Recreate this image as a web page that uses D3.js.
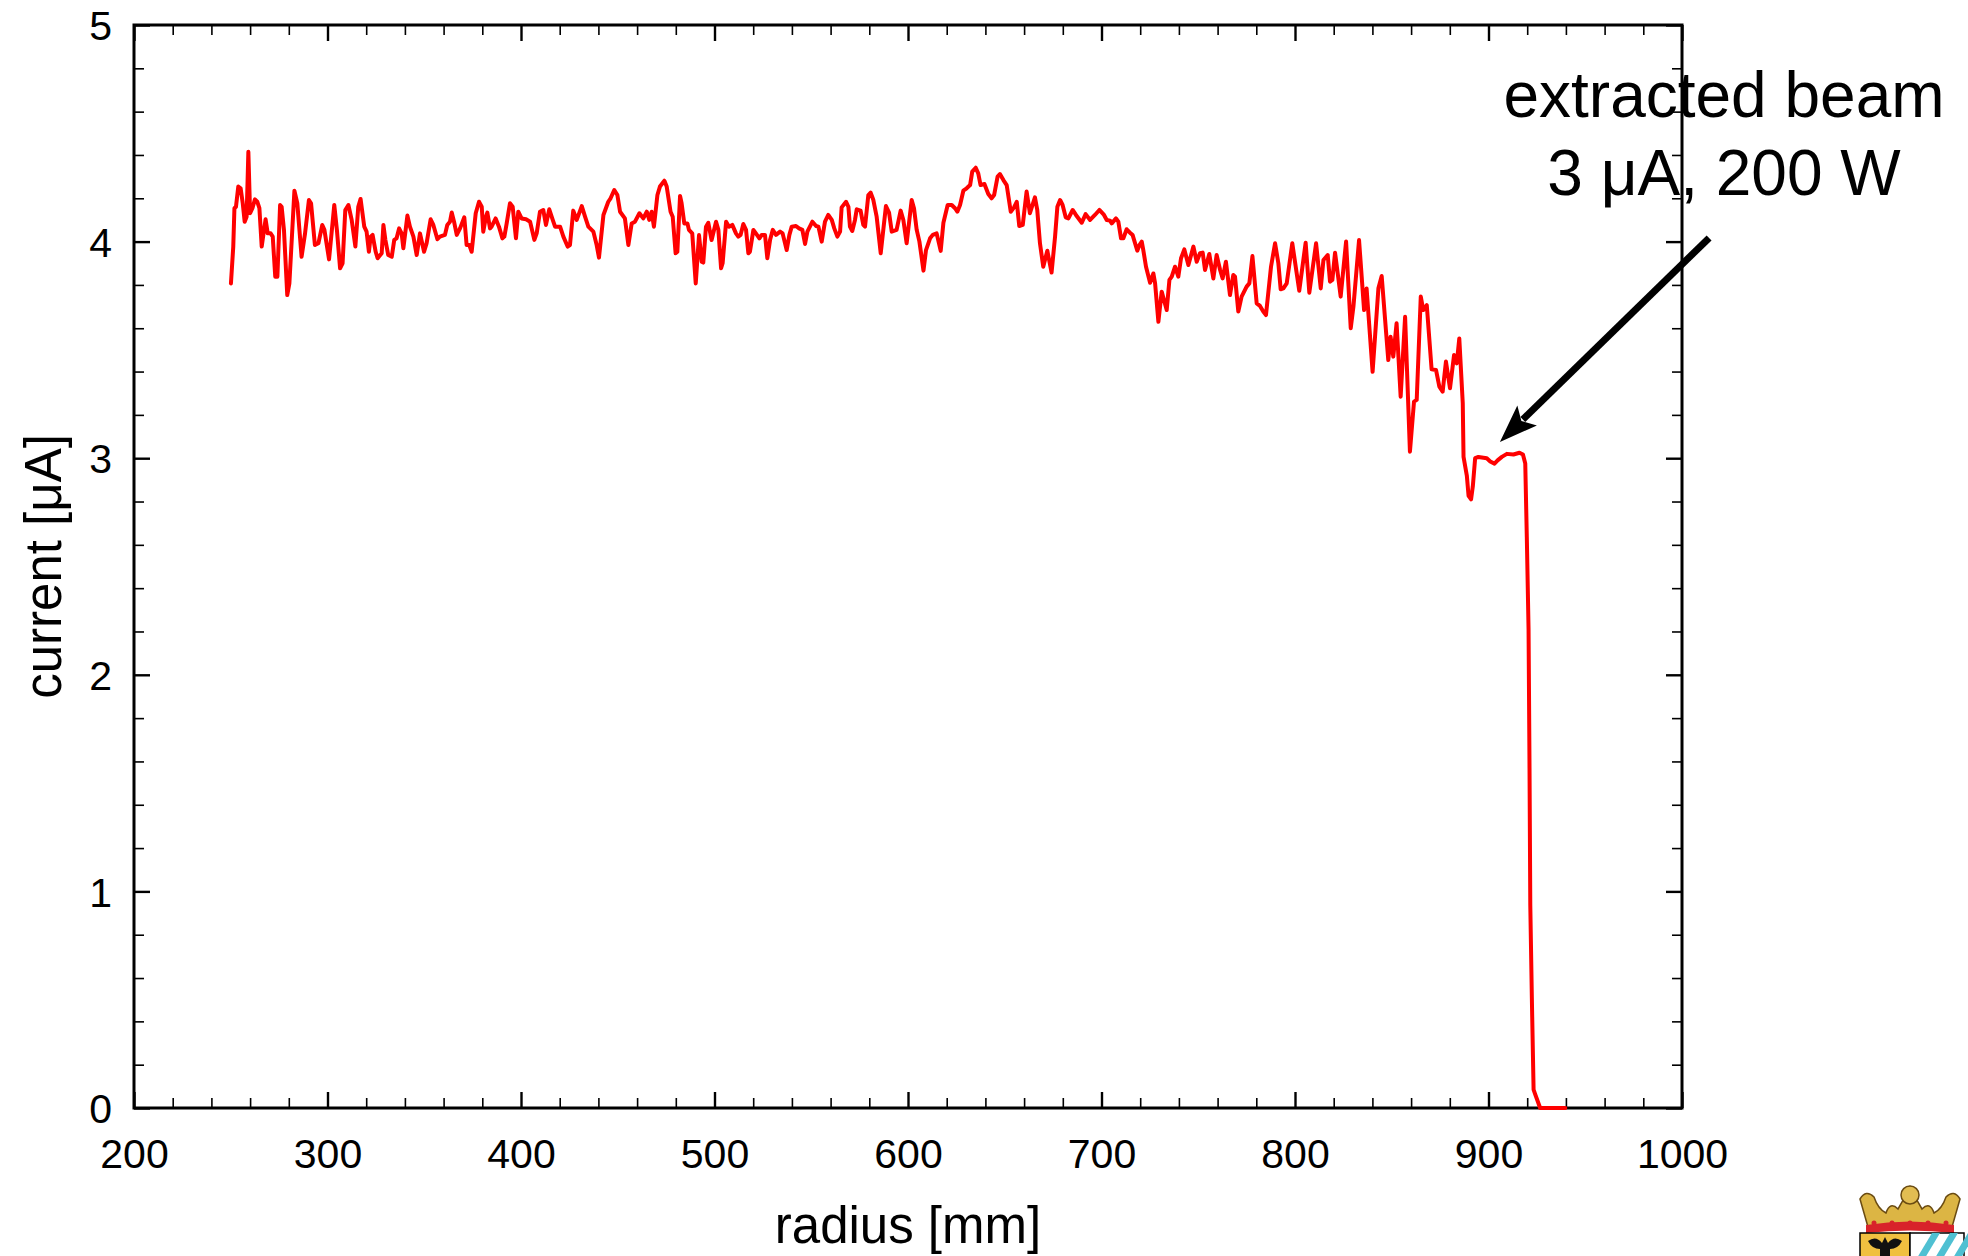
<!DOCTYPE html>
<html>
<head>
<meta charset="utf-8">
<script src="https://cdn.jsdelivr.net/npm/d3@7"></script>
<style>
  html, body { margin: 0; padding: 0; background: #fff; }
  svg { display: block; font-family: "Liberation Sans", Arial, Helvetica, sans-serif; }
</style>
</head>
<body>
<svg id="chart" width="1968" height="1256"></svg>
<script>
// beam current vs. probe radius
const radius = [
  250.1, 251.3, 251.9, 252.7, 253.9, 255.1, 256.2, 257.2, 258.2, 259.1, 260.0, 261.2, 262.5, 263.7, 264.8, 266.0,
  268.0, 269.1, 270.6, 271.7, 273.0, 274.1, 275.5, 276.3, 277.5, 279.2, 280.3, 282.9, 284.4, 286.6, 288.4, 290.4,
  291.5, 293.5, 295.3, 297.3, 298.4, 300.8, 303.5, 304.9, 306.5, 307.8, 309.2, 310.8, 312.5, 314.4, 315.9, 317.1,
  319.0, 320.2, 321.4, 322.3, 323.3, 324.9, 325.9, 328.0, 328.9, 329.9, 331.4, 333.2, 334.5, 335.7, 337.0, 338.3,
  339.2, 341.3, 342.6, 344.4, 346.1, 347.8, 349.9, 351.2, 353.3, 354.7, 356.8, 358.1, 360.7, 361.9, 363.3, 364.2,
  365.4, 366.8, 368.5, 370.7, 371.9, 373.3, 374.5, 376.6, 378.3, 379.7, 380.5, 381.9, 382.6, 384.0, 384.8, 386.9,
  388.6, 390.4, 391.4, 392.6, 394.3, 395.7, 397.4, 398.6, 400.3, 402.6, 404.7, 406.9, 408.1, 409.8, 411.5, 412.9,
  414.6, 416.4, 417.6, 420.2, 421.9, 424.1, 425.3, 427.0, 428.8, 431.4, 433.1, 434.8, 437.4, 439.1, 440.3, 442.6,
  445.1, 446.3, 448.2, 449.8, 451.2, 453.7, 455.5, 457.2, 458.9, 461.2, 463.2, 465.0, 466.3, 467.5, 468.7, 470.5,
  471.8, 474.1, 475.3, 477.3, 478.4, 479.9, 480.8, 482.2, 483.0, 484.4, 486.0, 486.8, 488.5, 490.3, 492.0, 493.4,
  494.2, 495.6, 496.8, 498.5, 500.8, 502.0, 503.4, 504.2, 506.0, 507.5, 509.2, 511.1, 512.3, 513.5, 514.9, 516.3,
  517.5, 518.3, 520.1, 521.4, 523.2, 524.4, 526.1, 527.3, 528.7, 530.1, 531.8, 533.9, 535.2, 537.3, 538.7, 539.9,
  542.1, 543.7, 545.4, 546.8, 548.0, 550.6, 552.5, 553.7, 555.4, 557.1, 558.8, 560.6, 561.9, 563.5, 564.9, 565.7,
  568.0, 569.2, 570.0, 571.2, 572.6, 573.5, 575.5, 576.9, 577.8, 579.5, 580.7, 582.1, 583.8, 585.9, 588.6, 590.2,
  591.6, 594.1, 596.2, 597.6, 599.3, 601.9, 603.1, 604.5, 605.9, 608.0, 609.3, 611.4, 612.8, 614.8, 616.9, 618.3,
  620.5, 622.6, 624.3, 625.5, 626.9, 628.6, 630.3, 632.1, 633.2, 635.0, 636.3, 637.5, 639.5, 641.5, 643.2, 644.5,
  646.3, 647.5, 649.3, 651.0, 653.1, 654.8, 656.2, 657.5, 659.3, 661.3, 663.0, 665.6, 666.8, 668.2, 669.9, 672.0,
  674.2, 676.0, 677.2, 678.6, 679.9, 681.5, 682.9, 685.1, 686.8, 689.8, 691.8, 694.1, 696.6, 698.9, 701.3, 702.7,
  704.4, 705.3, 707.5, 708.7, 710.1, 711.3, 713.0, 714.7, 716.1, 718.5, 719.6, 720.8, 721.6, 723.0, 725.1, 726.8,
  727.7, 729.4, 731.1, 733.7, 735.1, 736.3, 738.0, 739.7, 741.1, 742.8, 744.9, 747.5, 749.2, 750.9, 752.3, 753.5,
  755.7, 757.8, 759.5, 761.3, 762.6, 764.3, 766.4, 768.1, 769.0, 770.7, 772.4, 775.0, 776.4, 778.0, 780.2, 781.9,
  783.6, 785.0, 787.6, 789.7, 791.4, 792.6, 794.0, 795.7, 798.6, 802.2, 805.5, 807.4, 810.9, 813.3, 814.7, 816.9,
  818.1, 819.3, 820.7, 823.6, 826.4, 828.8, 830.2, 833.1, 835.7, 837.0, 840.1, 843.1, 844.8, 848.2, 849.4, 850.8,
  852.5, 854.6, 856.9, 859.4, 861.5, 862.9, 865.0, 866.3, 868.1, 870.6, 872.9, 874.6, 876.3, 878.0, 880.1, 882.2,
  883.6, 884.9, 886.7, 887.1, 888.8, 889.7, 891.0, 891.9, 893.1, 894.8, 899.1, 900.9, 903.1, 904.7, 906.9, 909.5,
  912.9, 916.0, 917.8, 919.0, 919.8, 920.7, 921.2, 921.6, 922.4, 923.3, 924.1, 926.7, 939.7
];
const current = [
  3.807, 3.977, 4.154, 4.161, 4.254, 4.246, 4.177, 4.092, 4.115, 4.415, 4.131, 4.154, 4.195, 4.184, 4.154, 3.977,
  4.103, 4.038, 4.038, 4.023, 3.838, 3.838, 4.169, 4.161, 4.054, 3.753, 3.807, 4.235, 4.177, 3.930, 4.038, 4.192,
  4.177, 3.984, 3.992, 4.077, 4.054, 3.918, 4.169, 4.050, 3.877, 3.900, 4.146, 4.169, 4.100, 3.977, 4.161, 4.197,
  4.069, 4.046, 3.953, 4.023, 4.031, 3.953, 3.923, 3.946, 4.077, 4.008, 3.938, 3.930, 4.008, 4.015, 4.061, 4.038,
  3.969, 4.120, 4.069, 4.023, 3.938, 4.038, 3.953, 3.992, 4.103, 4.077, 4.011, 4.023, 4.031, 4.077, 4.092, 4.134,
  4.092, 4.031, 4.061, 4.112, 3.984, 3.984, 3.953, 4.131, 4.184, 4.161, 4.046, 4.115, 4.134, 4.061, 4.069, 4.107,
  4.069, 4.015, 4.023, 4.084, 4.177, 4.161, 4.015, 4.138, 4.107, 4.103, 4.092, 4.008, 4.038, 4.138, 4.146, 4.077,
  4.149, 4.100, 4.069, 4.069, 4.023, 3.977, 3.984, 4.143, 4.100, 4.164, 4.115, 4.069, 4.046, 3.984, 3.926, 4.123,
  4.184, 4.200, 4.238, 4.215, 4.138, 4.107, 3.984, 4.084, 4.092, 4.131, 4.107, 4.138, 4.100, 4.138, 4.069, 4.215,
  4.254, 4.281, 4.254, 4.138, 4.115, 3.946, 3.953, 4.211, 4.177, 4.084, 4.084, 4.054, 4.038, 3.807, 4.030, 3.907,
  3.903, 4.069, 4.087, 4.007, 4.092, 4.054, 3.877, 3.900, 4.092, 4.069, 4.077, 4.038, 4.023, 4.031, 4.081, 4.054,
  3.946, 3.953, 4.054, 4.038, 4.015, 4.031, 4.031, 3.923, 4.007, 4.054, 4.031, 4.046, 4.038, 3.961, 4.031, 4.069,
  4.072, 4.061, 4.054, 3.989, 4.046, 4.092, 4.072, 4.069, 4.000, 4.092, 4.123, 4.100, 4.061, 4.023, 4.046, 4.158,
  4.184, 4.161, 4.069, 4.049, 4.100, 4.149, 4.143, 4.077, 4.069, 4.215, 4.226, 4.192, 4.115, 3.946, 4.164, 4.134,
  4.046, 4.054, 4.143, 4.100, 3.992, 4.192, 4.154, 4.054, 4.000, 3.866, 3.961, 4.015, 4.031, 4.038, 3.957, 4.087,
  4.169, 4.169, 4.154, 4.138, 4.169, 4.235, 4.246, 4.261, 4.323, 4.341, 4.315, 4.261, 4.266, 4.220, 4.200, 4.215,
  4.300, 4.312, 4.284, 4.261, 4.138, 4.158, 4.184, 4.072, 4.077, 4.231, 4.131, 4.204, 4.146, 3.992, 3.884, 3.958,
  3.857, 4.023, 4.161, 4.192, 4.169, 4.112, 4.107, 4.146, 4.123, 4.087, 4.127, 4.100, 4.123, 4.146, 4.123, 4.100,
  4.097, 4.084, 4.107, 4.092, 4.015, 4.015, 4.057, 4.041, 4.030, 3.958, 3.984, 4.000, 3.961, 3.884, 3.810, 3.853,
  3.807, 3.630, 3.769, 3.684, 3.823, 3.838, 3.884, 3.838, 3.923, 3.964, 3.892, 3.977, 3.907, 3.946, 3.949, 3.869,
  3.943, 3.830, 3.938, 3.869, 3.830, 3.907, 3.753, 3.846, 3.838, 3.677, 3.746, 3.792, 3.807, 3.933, 3.715, 3.703,
  3.677, 3.661, 3.884, 3.992, 3.900, 3.780, 3.784, 3.807, 3.992, 3.773, 3.995, 3.764, 3.992, 3.784, 3.915, 3.938,
  3.815, 3.823, 3.949, 3.746, 4.000, 3.600, 3.700, 4.007, 3.684, 3.784, 3.399, 3.784, 3.841, 3.453, 3.561, 3.469,
  3.623, 3.284, 3.653, 3.030, 3.261, 3.269, 3.746, 3.684, 3.707, 3.410, 3.407, 3.330, 3.307, 3.446, 3.323, 3.476,
  3.438, 3.553, 3.253, 3.006, 2.920, 2.826, 2.810, 2.870, 3.000, 3.006, 3.000, 2.985, 2.975, 2.990, 3.006, 3.020,
  3.017, 3.025, 3.017, 2.975, 2.635, 2.210, 1.570, 0.935, 0.510, 0.085, 0.064, 0.000, 0.000
];

const xTicks = [200, 300, 400, 500, 600, 700, 800, 900, 1000];
const yTicks = [0, 1, 2, 3, 4, 5];
const xMinor = d3.range(200, 1001, 20).filter(v => v % 100 !== 0);
const yMinor = d3.range(0, 5.01, 0.2).map(v => +v.toFixed(1)).filter(v => v % 1 !== 0);

const xTitle = 'radius [mm]';
const yTitle = 'current [μA]';
const noteLines = ['extracted beam', '3 μA, 200 W'];
const arrowFrom = [1014, 4.017];
const arrowTo = [905.9, 3.075];

const svg = d3.select('#chart');
const x = d3.scaleLinear().domain([200, 1000]).range([134, 1682]);
const y = d3.scaleLinear().domain([0, 5]).range([1108, 25]);
const [x0, x1] = x.range();
const [y0, y1] = y.range();

function ticks(axis, values, size, width, transform, labels){
    const g = svg.append('g')
        .attr('transform', transform)
        .call(axis.tickValues(values).tickSize(size).tickFormat(labels ? d3.format('d') : ''));
    g.select('.domain').remove();
    g.selectAll('line').attr('stroke', '#000').attr('stroke-width', width);
    g.attr('font-family', null).attr('font-size', 41);
    return g;
}

// bottom / top
ticks(d3.axisBottom(x), xMinor, -10, 1.6, `translate(0,${y0})`);
ticks(d3.axisTop(x), xMinor, -10, 1.6, `translate(0,${y1})`);
ticks(d3.axisTop(x), xTicks, -16, 2.4, `translate(0,${y1})`);
ticks(d3.axisBottom(x), xTicks, -16, 2.4, `translate(0,${y0})`, true)
    .selectAll('text').attr('y', 60).attr('dy', 0).attr('fill', '#000');

// left / right
ticks(d3.axisLeft(y), yMinor, -10, 1.6, `translate(${x0},0)`);
ticks(d3.axisRight(y), yMinor, -10, 1.6, `translate(${x1},0)`);
ticks(d3.axisRight(y), yTicks, -16, 2.4, `translate(${x1},0)`);
ticks(d3.axisLeft(y), yTicks, -16, 2.4, `translate(${x0},0)`, true)
    .selectAll('text').attr('x', -22).attr('dy', '0.36em').attr('fill', '#000');

// frame
svg.append('rect')
    .attr('x', x0).attr('y', y1)
    .attr('width', x1 - x0).attr('height', y0 - y1)
    .attr('fill', 'none').attr('stroke', '#000').attr('stroke-width', 3);

// curve
const line = d3.line().x(d => x(d[0])).y(d => y(d[1]));
svg.append('path')
    .datum(radius.map((r, i) => [r, current[i]]))
    .attr('d', line)
    .attr('fill', 'none')
    .attr('stroke', '#ff0000')
    .attr('stroke-width', 4)
    .attr('stroke-linejoin', 'round')
    .attr('stroke-linecap', 'round');

// axis titles
svg.append('text')
    .attr('x', (x0 + x1) / 2).attr('y', 1243)
    .attr('text-anchor', 'middle').attr('font-size', 51)
    .text(xTitle);
svg.append('text')
    .attr('transform', `translate(61,${(y0 + y1) / 2}) rotate(-90)`)
    .attr('text-anchor', 'middle').attr('font-size', 51)
    .text(yTitle);

// annotation
svg.append('text')
    .attr('text-anchor', 'middle').attr('font-size', 64)
    .selectAll('tspan').data(noteLines).join('tspan')
    .attr('x', 1724).attr('y', (d, i) => 117 + i * 78)
    .text(d => d);

const ax0 = x(arrowFrom[0]), ay0 = y(arrowFrom[1]);
const ax1 = x(arrowTo[0]), ay1 = y(arrowTo[1]);
const ang = Math.atan2(ay1 - ay0, ax1 - ax0);
const headLen = 38, headW = 14;
const bx = ax1 - headLen * Math.cos(ang), by = ay1 - headLen * Math.sin(ang);
svg.append('line')
    .attr('x1', ax0).attr('y1', ay0).attr('x2', bx + 6 * Math.cos(ang)).attr('y2', by + 6 * Math.sin(ang))
    .attr('stroke', '#000').attr('stroke-width', 7);
svg.append('path')
    .attr('d', `M${ax1},${ay1}`
        + `L${bx + headW * Math.sin(ang)},${by - headW * Math.cos(ang)}`
        + `L${bx + 8 * Math.cos(ang)},${by + 8 * Math.sin(ang)}`
        + `L${bx - headW * Math.sin(ang)},${by + headW * Math.cos(ang)}Z`)
    .attr('fill', '#000');

// little coat of arms in the corner
const logo = svg.append('g').attr('transform', 'translate(1858,1183)');
logo.append('path')
    .attr('d', 'M10,44 Q6,30 2,16 Q8,6 16,14 Q20,26 28,30 Q32,18 40,26 Q46,16 52,4 Q58,16 64,26 Q72,18 76,30 Q84,26 88,14 Q96,6 102,16 Q98,30 94,44 Z')
    .attr('fill', '#dcb544').attr('stroke', '#6a4b12').attr('stroke-width', 1.5);
logo.append('circle').attr('cx', 52).attr('cy', 12).attr('r', 9)
    .attr('fill', '#e2bd52').attr('stroke', '#6a4b12').attr('stroke-width', 1.5);
logo.append('path')
    .attr('d', 'M8,42 Q52,35 96,42 L96,50 Q52,45 8,50 Z')
    .attr('fill', '#d8232a');
logo.selectAll('circle.gem').data([16, 34, 52, 70, 88]).join('circle')
    .attr('class', 'gem').attr('cx', d => d).attr('cy', 40).attr('r', 2.5).attr('fill', '#d8232a');
logo.append('rect').attr('x', 2).attr('y', 50).attr('width', 50).attr('height', 30)
    .attr('fill', '#f0c040').attr('stroke', '#000').attr('stroke-width', 1.5);
logo.append('path')
    .attr('d', 'M10,58 Q18,52 24,60 L27,54 L30,60 Q36,52 44,58 Q40,66 32,66 L32,74 L22,74 L22,66 Q14,66 10,58 Z')
    .attr('fill', '#111');
logo.append('rect').attr('x', 52).attr('y', 50).attr('width', 54).attr('height', 30)
    .attr('fill', '#fff').attr('stroke', '#000').attr('stroke-width', 1.5);
logo.selectAll('path.stripe').data([52, 70, 88]).join('path')
    .attr('class', 'stripe')
    .attr('d', d => `M${d + 4},80 L${d + 22},50 L${d + 30},50 L${d + 12},80 Z`)
    .attr('fill', '#4fc0d2');
</script>
</body>
</html>
